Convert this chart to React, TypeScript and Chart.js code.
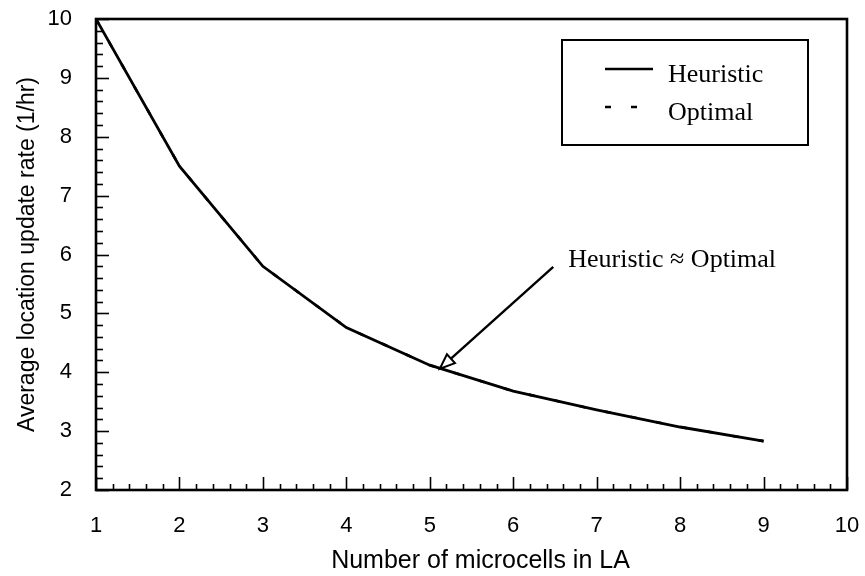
import React, { useEffect, useRef } from "react";
import { Chart, registerables } from "chart.js";

Chart.register(...registerables);

// ---- data ----
const microcells = [1, 2, 3, 4, 5, 6, 7, 8, 9];
const heuristicRate = [10, 7.5, 5.8, 4.76, 4.12, 3.68, 3.36, 3.07, 2.83];
const optimalRate = [10, 7.5, 5.8, 4.76, 4.12, 3.68, 3.36, 3.07, 2.83];
const seriesLabels = ["Heuristic", "Optimal"];
const xRange = [1, 10];
const yRange = [2, 10];
const minorStep = 0.2;
const xTitle = "Number of microcells in LA";
const yTitle = "Average location update rate (1/hr)";
const annotationText = "Heuristic \u2248 Optimal";
const annotationTextAt = [6.66, 5.79]; // data units
const arrowFrom = [6.48, 5.79];
const arrowTo = [5.12, 4.06];

const SANS = "'Liberation Sans', Arial, sans-serif";
const SERIF = "'Liberation Serif', 'Times New Roman', serif";

const framePlugin = {
  id: "frameTicks",
  afterDraw(chart: any) {
    const { ctx, chartArea: a, scales } = chart;
    const x = scales.x;
    const y = scales.y;
    ctx.save();
    ctx.strokeStyle = "#000";
    ctx.lineWidth = 1.6;
    ctx.lineCap = "butt";
    const nx = Math.round((xRange[1] - xRange[0]) / minorStep);
    for (let i = 0; i <= nx; i++) {
      const v = xRange[0] + i * minorStep;
      const px = Math.round(x.getPixelForValue(v)) + 0.5;
      const len = i % 5 === 0 ? 13 : 6;
      ctx.beginPath();
      ctx.moveTo(px, a.bottom);
      ctx.lineTo(px, a.bottom - len);
      ctx.stroke();
    }
    const ny = Math.round((yRange[1] - yRange[0]) / minorStep);
    for (let i = 0; i <= ny; i++) {
      const v = yRange[0] + i * minorStep;
      const py = Math.round(y.getPixelForValue(v)) + 0.5;
      const len = i % 5 === 0 ? 13 : 7;
      ctx.beginPath();
      ctx.moveTo(a.left, py);
      ctx.lineTo(a.left + len, py);
      ctx.stroke();
    }
    ctx.lineWidth = 2.6;
    ctx.strokeRect(a.left, a.top, a.right - a.left, a.bottom - a.top);

    // axis titles
    ctx.fillStyle = "#000";
    ctx.textAlign = "center";
    ctx.textBaseline = "alphabetic";
    ctx.font = `25px ${SANS}`;
    ctx.fillText(xTitle, (a.left + a.right) / 2 + 9, 568);
    ctx.save();
    ctx.font = `23px ${SANS}`;
    ctx.translate(34, (a.top + a.bottom) / 2);
    ctx.rotate(-Math.PI / 2);
    ctx.fillText(yTitle, 0, 0);
    ctx.restore();

    // legend box
    const bw = 246;
    const bh = 105;
    const bx = a.right - 39 - bw;
    const by = a.top + 21;
    ctx.lineWidth = 2;
    ctx.strokeRect(bx, by, bw, bh);
    ctx.font = `26px ${SERIF}`;
    ctx.textAlign = "left";
    chart.data.datasets.forEach((ds: any, i: number) => {
      const cy = by + 29 + i * 38;
      ctx.save();
      ctx.lineWidth = 2.6;
      ctx.setLineDash(ds.borderDash || []);
      ctx.beginPath();
      ctx.moveTo(bx + 43, cy);
      ctx.lineTo(bx + 91, cy);
      ctx.stroke();
      ctx.restore();
      ctx.fillText(ds.label, bx + 106, cy + 13);
    });

    // annotation
    const tx = x.getPixelForValue(annotationTextAt[0]);
    const ty = y.getPixelForValue(annotationTextAt[1]);
    ctx.fillText(annotationText, tx, ty);
    const ax0 = x.getPixelForValue(arrowFrom[0]);
    const ay0 = y.getPixelForValue(arrowFrom[1]);
    const ax1 = x.getPixelForValue(arrowTo[0]);
    const ay1 = y.getPixelForValue(arrowTo[1]);
    const ang = Math.atan2(ay1 - ay0, ax1 - ax0);
    const headLen = 15;
    const headW = 6;
    const bxh = ax1 - headLen * Math.cos(ang);
    const byh = ay1 - headLen * Math.sin(ang);
    ctx.lineWidth = 2.4;
    ctx.beginPath();
    ctx.moveTo(ax0, ay0);
    ctx.lineTo(bxh, byh);
    ctx.stroke();
    ctx.lineWidth = 2;
    ctx.beginPath();
    ctx.moveTo(ax1, ay1);
    ctx.lineTo(bxh + headW * Math.sin(ang), byh - headW * Math.cos(ang));
    ctx.lineTo(bxh - headW * Math.sin(ang), byh + headW * Math.cos(ang));
    ctx.closePath();
    ctx.fillStyle = "#fff";
    ctx.fill();
    ctx.stroke();
    ctx.restore();
  },
};

export default function App() {
  const ref = useRef<HTMLCanvasElement | null>(null);
  useEffect(() => {
    document.body.style.margin = "0";
    if (!ref.current) return;
    const chart = new Chart(ref.current, {
      type: "line",
      data: {
        datasets: [
          {
            label: seriesLabels[0],
            data: microcells.map((c, i) => ({ x: c, y: heuristicRate[i] })),
            borderColor: "#000",
            borderWidth: 2.8,
            pointRadius: 0,
            tension: 0,
            fill: false,
          },
          {
            label: seriesLabels[1],
            data: microcells.map((c, i) => ({ x: c, y: optimalRate[i] })),
            borderColor: "#000",
            borderWidth: 2.6,
            borderDash: [6, 20],
            pointRadius: 0,
            tension: 0,
            fill: false,
          },
        ],
      },
      options: {
        responsive: false,
        animation: false,
        layout: { autoPadding: false, padding: { left: 0, right: 18, top: 19, bottom: 0 } },
        plugins: { legend: { display: false }, tooltip: { enabled: false }, title: { display: false } },
        scales: {
          x: {
            type: "linear",
            min: xRange[0],
            max: xRange[1],
            afterFit: (s: any) => {
              s.height = 86;
              s.paddingLeft = 0;
              s.paddingRight = 0;
              s.paddingTop = 0;
              s.paddingBottom = 0;
            },
            ticks: {
              stepSize: 1,
              padding: 23,
              color: "#000",
              font: { family: SANS, size: 22 },
            },
            grid: { display: false, drawTicks: false },
            border: { display: false },
          },
          y: {
            type: "linear",
            min: yRange[0],
            max: yRange[1],
            afterFit: (s: any) => {
              s.width = 96;
              s.paddingLeft = 0;
              s.paddingRight = 0;
              s.paddingTop = 0;
              s.paddingBottom = 0;
            },
            ticks: {
              stepSize: 1,
              padding: 24,
              color: "#000",
              font: { family: SANS, size: 22 },
            },
            grid: { display: false, drawTicks: false },
            border: { display: false },
          },
        },
      },
      plugins: [framePlugin],
    });
    return () => chart.destroy();
  }, []);
  return (
    <div style={{ width: 865, height: 576, background: "#fff" }}>
      <canvas ref={ref} width={865} height={576} />
    </div>
  );
}
